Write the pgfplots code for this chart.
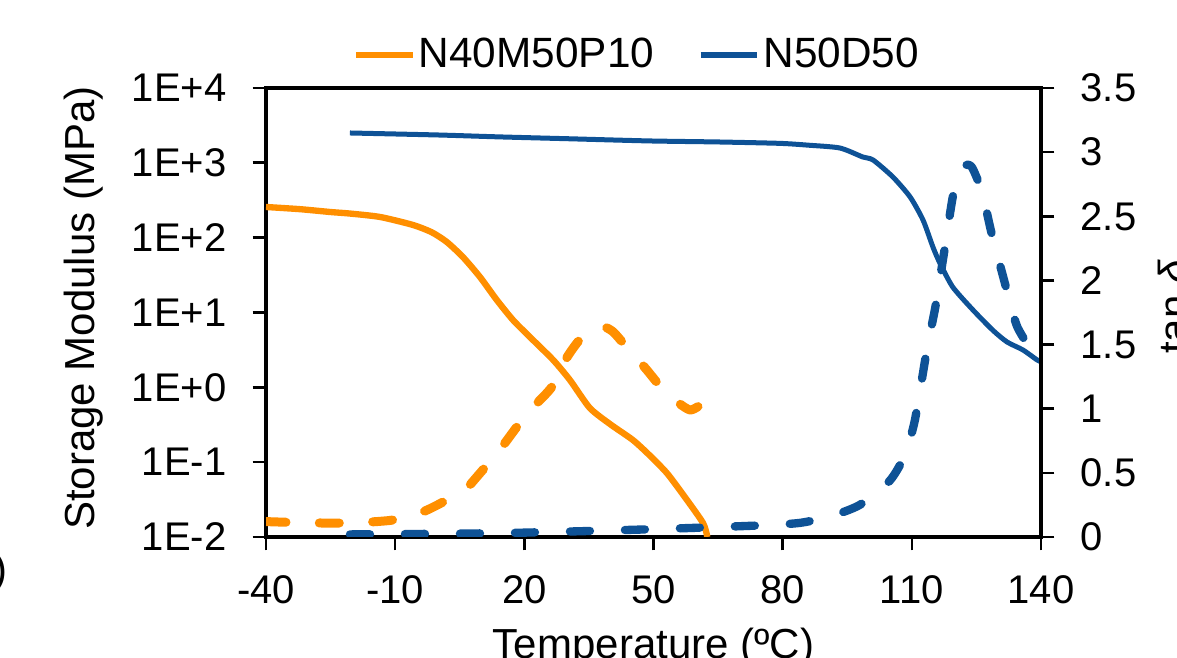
\documentclass[border=0pt]{standalone}
\usepackage{fontspec}
\setmainfont{Liberation Sans}
\usepackage{pgfplots}
\pgfplotsset{compat=1.18}
\definecolor{cOr}{RGB}{255,143,0}
\definecolor{cBl}{RGB}{14,82,150}
\begin{document}
\begin{tikzpicture}
\begin{axis}[
  name=ax, scale only axis, width=232.5pt, height=134.7pt,
  xmin=-40, xmax=140, ymode=log, ymin=1e-2, ymax=1e4,
  xtick={-40,-10,20,50,80,110,140},
  xticklabels={-40,-10,20,50,80,110,140},
  ytick={1e-2,1e-1,1,10,100,1000,10000},
  yticklabels={1E-2,1E-1,1E+0,1E+1,1E+2,1E+3,1E+4},
  yminorticks=false,
  tick align=outside, xtick pos=bottom, ytick pos=left,
  major tick length=4pt,
  tick style={black, line width=0.8pt},
  axis line style={line width=1pt},
  ticklabel style={font=\fontsize{12}{14}\selectfont, inner sep=0pt},
  xticklabel style={anchor=north, yshift=-7.4pt},
  yticklabel style={anchor=east, xshift=-7.7pt},
  xlabel={Temperature (ºC)}, ylabel={Storage Modulus (MPa)},
  label style={font=\fontsize{12.6}{15}\selectfont},
  xlabel style={at={(axis description cs:0.5,0)}, anchor=north, inner sep=0pt, yshift=-27pt},
  ylabel style={at={(axis description cs:-0.2348,0.51)}, anchor=center, inner sep=0pt},
  legend style={at={(0.5,1)}, anchor=center, xshift=-4.8pt, yshift=9.9pt, draw=none, fill=none,
    legend columns=2, font=\fontsize{12.7}{15}\selectfont,
    /tikz/every even column/.append style={column sep=12pt},
    nodes={inner xsep=1pt}},
  legend image code/.code={\draw[#1, line width=1.8pt] (0pt,0pt) -- (17pt,0pt);},
]
\addplot[cOr, line width=1.9pt, line join=round, smooth, tension=0.4] coordinates {
(-40,257) (-32,240) (-25,220) (-20.5,210) (-13.5,189) (-5.9,148) (-1.5,118) (2.0,87.5)
(5.75,55) (9.7,29.8) (13.6,14.7) (17.4,7.9) (21.3,4.7) (26.7,2.32) (30.6,1.25)
(35.2,0.53) (40,0.32) (45.2,0.198) (49,0.125) (53.1,0.0716) (57,0.036) (61.5,0.0154) (62.5,0.0100)
};
\addlegendentry{N40M50P10}
\addplot[cBl, line width=1.5pt, line join=round, smooth, tension=0.4] coordinates {
(-20.5,2505) (0,2355) (14.3,2220) (30,2100) (49.2,1960) (65,1900) (79.4,1820)
(86,1720) (93.3,1578) (98.6,1197) (101,1091) (105.6,647) (109.6,350)
(112.6,172) (114.9,75) (116.5,45.9) (119.5,21.9) (124.2,10.8)
(128.8,5.8) (132.1,4.04) (135.8,3.16) (139.1,2.32) (140,2.2)
};
\addlegendentry{N50D50}
\end{axis}
\begin{axis}[
  scale only axis, width=232.5pt, height=134.7pt,
  xmin=-40, xmax=140, ymin=0, ymax=3.5,
  axis x line=none, axis y line*=right,
  ytick={0,0.5,1,1.5,2,2.5,3,3.5},
  yticklabels={0,0.5,1,1.5,2,2.5,3,3.5},
  tick align=outside,
  major tick length=4pt,
  tick style={black, line width=0.8pt},
  axis line style={line width=1pt},
  ticklabel style={font=\fontsize{12}{14}\selectfont, inner sep=0pt},
  yticklabel style={anchor=west, xshift=7.7pt},
  ylabel={tan \textit{δ}},
  ylabel style={font=\fontsize{12.6}{15}\selectfont, at={(axis description cs:1.1497,0.512)}, anchor=north, inner sep=0pt},
]
\addplot[cOr, line width=2.7pt, line cap=round, line join=round, smooth, tension=0.4, dash pattern=on 6pt off 10pt] coordinates {
(-40,0.12) (-30,0.11) (-20,0.11) (-11,0.13) (-5,0.18) (-2.6,0.21) (0.4,0.26) (6.2,0.37)
(9,0.47) (14.3,0.68) (18.3,0.86) (22,1.01) (26.4,1.17) (29.9,1.40) (32.9,1.54)
(35.5,1.61) (38.3,1.64) (40.6,1.60) (43,1.51) (45.2,1.43) (48.5,1.30) (52.2,1.15)
(56,1.04) (58.5,0.99) (60.5,1.02) (62.6,1.08)
};
\addplot[cBl, line width=2.5pt, line cap=round, line join=round, smooth, tension=0.4, dash pattern=on 6pt off 10.5pt] coordinates {
(-20.5,0.02) (14.3,0.03) (49.2,0.06) (74.7,0.09) (84,0.11) (91,0.16) (97.9,0.25)
(104.9,0.44) (108.4,0.64) (110.7,0.91) (113.5,1.46) (115.5,1.80) (117.5,2.22)
(119.5,2.65) (121,2.82) (122.5,2.90) (124,2.88) (126.3,2.69) (128.5,2.37)
(131.2,2.03) (132.8,1.83) (134.6,1.63) (139.1,1.38) (140,1.34)
};
\end{axis}
\node[anchor=east, font=\fontsize{12.6}{15}\selectfont, inner sep=0pt] at ([shift={(-77.4pt,-10.8pt)}]ax.south west) {(b)};
\pgfresetboundingbox
\path[use as bounding box] ([shift={(-79.8pt,-36.3pt)}]ax.south west) rectangle ([shift={(40.8pt,26.4pt)}]ax.north east);
\end{tikzpicture}
\end{document}
